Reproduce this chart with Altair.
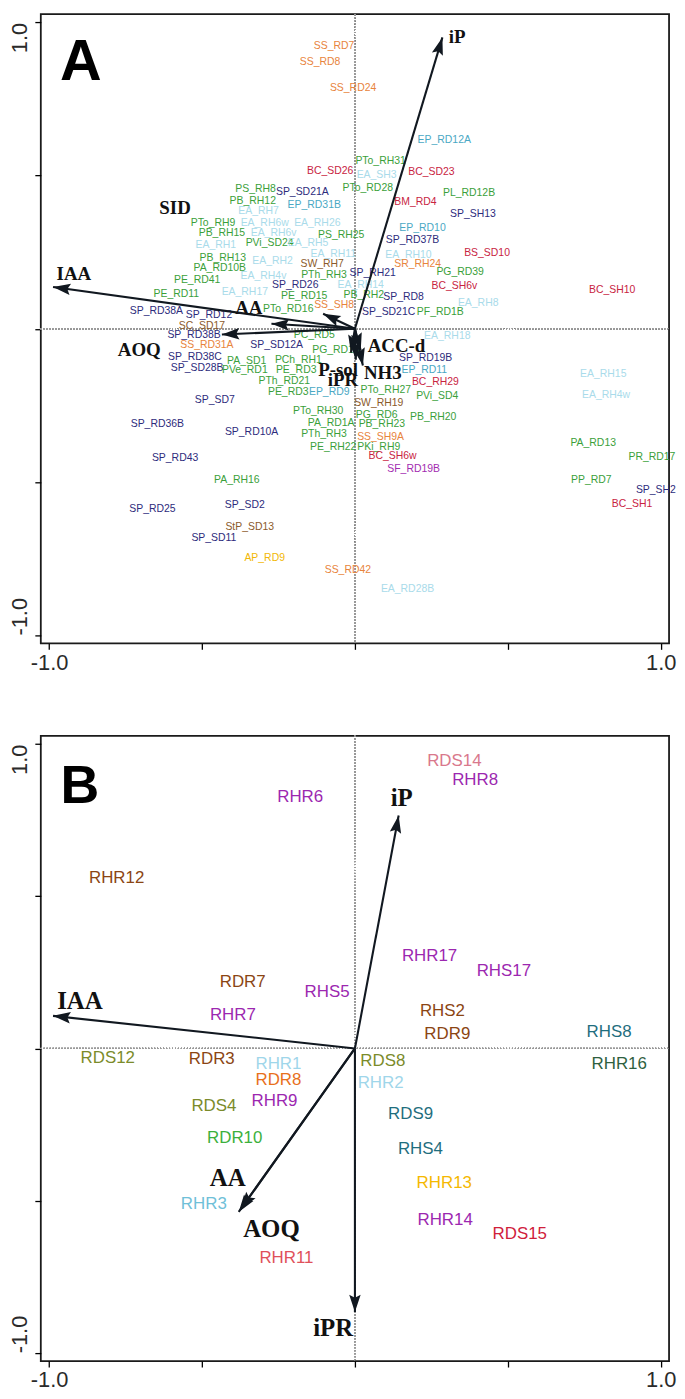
import math
import altair as alt
import pandas as pd

# ---------------- Panel A data ----------------
a_labels = ["SS_RD7", "SS_RD8", "SS_RD24", "EP_RD12A", "PTo_RH31", "BC_SD26", "EA_SH3", "BC_SD23",
            "PTo_RD28", "PL_RD12B", "PS_RH8", "SP_SD21A", "BM_RD4", "PB_RH12", "EP_RD31B", "EA_RH7",
            "SP_SH13", "PTo_RH9", "EA_RH6w", "EA_RH26", "EP_RD10", "PB_RH15", "EA_RH6v", "PS_RH25",
            "SP_RD37B", "EA_RH1", "PVi_SD24", "EA_RH5", "BS_SD10", "EA_RH10", "EA_RH11", "PB_RH13",
            "EA_RH2", "SW_RH7", "SR_RH24", "PA_RD10B", "PG_RD39", "SP_RH21", "PTh_RH3", "EA_RH4v",
            "PE_RD41", "SP_RD26", "EA_RH14", "BC_SH6v", "BC_SH10", "EA_RH17", "PE_RD11", "PE_RD15",
            "PB_RH2", "SP_RD8", "EA_RH8", "SS_SH8", "PTo_RD16", "SP_RD38A", "SP_SD21C", "PF_RD1B",
            "SP_RD12", "SC_SD17", "PC_RD5", "SP_RD38B", "EA_RH18", "SS_RD31A", "SP_SD12A", "PG_RD14",
            "SP_RD38C", "SP_RD19B", "PCh_RH1", "PA_SD1", "SP_SD28B", "PVe_RD1", "PE_RD3", "EP_RD11",
            "EA_RH15", "PTh_RD21", "BC_RH29", "PTo_RH27", "PE_RD3", "EP_RD9", "PVi_SD4", "EA_RH4w",
            "SP_SD7", "SW_RH19", "PTo_RH30", "PG_RD6", "PB_RH20", "PA_RD1A", "SP_RD36B", "PB_RH23",
            "SP_RD10A", "PTh_RH3", "SS_SH9A", "PA_RD13", "PE_RH22", "PKi_RH9", "BC_SH6w", "PR_RD17",
            "SP_RD43", "SF_RD19B", "PA_RH16", "PP_RD7", "SP_SH2", "BC_SH1", "SP_SD2", "SP_RD25",
            "StP_SD13", "SP_SD11", "AP_RD9", "SS_RD42", "EA_RD28B"]
a_x = [-0.068, -0.114, -0.006, 0.292, 0.084, -0.081, 0.071, 0.250,
       0.042, 0.373, -0.325, -0.172, 0.198, -0.334, -0.133, -0.315,
       0.386, -0.464, -0.295, -0.123, 0.221, -0.435, -0.266, -0.045,
       0.188, -0.455, -0.279, -0.153, 0.432, 0.175, -0.071, -0.432,
       -0.269, -0.107, 0.205, -0.442, 0.344, 0.058, -0.101, -0.299,
       -0.516, -0.195, 0.019, 0.325, 0.841, -0.360, -0.584, -0.166,
       0.029, 0.159, 0.403, -0.068, -0.218, -0.649, 0.110, 0.279,
       -0.477, -0.500, -0.133, -0.526, 0.302, -0.484, -0.256, -0.062,
       -0.523, 0.231, -0.185, -0.354, -0.516, -0.360, -0.192, 0.227,
       0.812, -0.231, 0.263, 0.101, -0.218, -0.084, 0.269, 0.821,
       -0.458, 0.078, -0.120, 0.071, 0.256, -0.078, -0.646, 0.088,
       -0.338, -0.101, 0.084, 0.779, -0.071, 0.078, 0.123, 0.971,
       -0.588, 0.192, -0.386, 0.773, 0.984, 0.906, -0.360, -0.662,
       -0.344, -0.461, -0.295, -0.023, 0.172]
a_y = [0.922, 0.870, 0.786, 0.617, 0.549, 0.516, 0.503, 0.510,
       0.458, 0.442, 0.455, 0.445, 0.412, 0.416, 0.403, 0.383,
       0.373, 0.344, 0.344, 0.344, 0.328, 0.312, 0.312, 0.305,
       0.289, 0.273, 0.279, 0.279, 0.247, 0.240, 0.244, 0.231,
       0.221, 0.211, 0.211, 0.198, 0.185, 0.182, 0.175, 0.172,
       0.159, 0.143, 0.143, 0.140, 0.127, 0.120, 0.114, 0.107,
       0.110, 0.104, 0.084, 0.078, 0.065, 0.058, 0.055, 0.055,
       0.045, 0.010, -0.019, -0.019, -0.023, -0.052, -0.052, -0.071,
       -0.091, -0.097, -0.101, -0.104, -0.127, -0.136, -0.136, -0.136,
       -0.149, -0.172, -0.175, -0.201, -0.208, -0.205, -0.221, -0.218,
       -0.234, -0.244, -0.269, -0.282, -0.289, -0.308, -0.312, -0.312,
       -0.338, -0.344, -0.354, -0.373, -0.386, -0.386, -0.416, -0.419,
       -0.422, -0.458, -0.494, -0.494, -0.526, -0.571, -0.575, -0.588,
       -0.646, -0.682, -0.750, -0.789, -0.851]

group_colors = {"SS": "#e8843c", "SR": "#e8843c", "SP": "#2d2b7c", "BC": "#c8233f", "BM": "#c8233f",
                "BS": "#c8233f", "EA": "#a9dbea", "EP": "#4aa8c4", "SW": "#8b5a2b", "SC": "#8b5a2b",
                "StP": "#8b5a2b", "SF": "#a22bb0", "AP": "#f2b705", "P": "#3aa03a"}

a_arrow_names = ["iP", "IAA", "SID", "AA", "AOQ", "ACC-d", "P-sol", "NH3", "iPR"]
a_arrow_x = [0.286, -0.987, -0.104, -0.273, -0.435, 0.019, -0.013, 0.026, 0.003]
a_arrow_y = [0.951, 0.136, 0.049, 0.016, -0.019, -0.071, -0.078, -0.120, -0.101]
a_lab_x = [0.334, -0.919, -0.588, -0.347, -0.705, 0.136, -0.055, 0.091, -0.039]
a_lab_y = [0.951, 0.179, 0.393, 0.068, -0.071, -0.055, -0.136, -0.143, -0.169]

# ---------------- Panel B data ----------------
b_labels = ["RDS14", "RHR8", "RHR6", "RHR12", "RHR17", "RHS17", "RDR7", "RHS5", "RHR7", "RHS2",
            "RDR9", "RHS8", "RDS12", "RDR3", "RHR1", "RDS8", "RHR16", "RDR8", "RHR2", "RHR9",
            "RDS4", "RDS9", "RDR10", "RHS4", "RHR13", "RHR3", "RHR14", "RDS15", "RHR11"]
b_x = [0.325, 0.393, -0.179, -0.779, 0.244, 0.487, -0.367, -0.091, -0.399, 0.286,
       0.302, 0.831, -0.808, -0.468, -0.250, 0.091, 0.864, -0.250, 0.084, -0.263,
       -0.461, 0.182, -0.393, 0.214, 0.292, -0.494, 0.295, 0.539, -0.224]
b_y = [0.945, 0.883, 0.827, 0.560, 0.303, 0.254, 0.218, 0.186, 0.111, 0.124,
       0.046, 0.055, -0.033, -0.036, -0.052, -0.042, -0.052, -0.104, -0.114, -0.173,
       -0.189, -0.215, -0.293, -0.332, -0.443, -0.511, -0.564, -0.609, -0.687]
b_colors = ["#d9788c", "#9c27b0", "#9c27b0", "#8b4513", "#9c27b0", "#9c27b0", "#8b4513", "#9c27b0",
            "#9c27b0", "#8b4513", "#8b4513", "#1f6e7e", "#7b8b2a", "#8b4513", "#9fd6ea", "#7b8b2a",
            "#2f5f40", "#e8701c", "#9fd6ea", "#9c27b0", "#7b8b2a", "#1f6e7e", "#3cb03c", "#1f6e7e",
            "#f5b800", "#6fc0d8", "#9c27b0", "#d0203a", "#e0505a"]

b_arrow_names = ["iP", "IAA", "AA", "AOQ", "iPR"]
b_arrow_x = [0.143, -0.987, -0.380, -0.373, 0.0]
b_arrow_y = [0.765, 0.107, -0.537, -0.528, -0.866]
b_lab_x = [0.153, -0.899, -0.416, -0.273, -0.071]
b_lab_y = [0.824, 0.156, -0.427, -0.593, -0.919]

ticks = [-1, -0.5, 0, 0.5, 1]
DOM = [-1.027, 1.027]


def color_for(name):
    p = name.split("_")[0]
    if p in group_colors:
        return group_colors[p]
    return group_colors["P"]


def panel(sdf, adf, letter, letter_xy, sfont, vfont, lfont, h):
    xs = alt.Scale(domain=DOM, nice=False, zero=False)
    ys = alt.Scale(domain=DOM, nice=False, zero=False)
    lab = "datum.value == 1 ? '1.0' : (datum.value == -1 ? '-1.0' : '')"
    xax = alt.Axis(values=ticks, labelExpr=lab, grid=False, domain=False, tickSize=6,
                   tickColor="black", tickWidth=1.3, labelFontSize=22, labelFont="Liberation Sans",
                   labelColor="#2a2a2a", labelPadding=3, labelFlush=True, labelFlushOffset=5,
                   labelOverlap=False, title=None)
    yax = alt.Axis(values=ticks, labelExpr=lab, grid=False, domain=False, tickSize=6,
                   tickColor="black", tickWidth=1.3, labelFontSize=22, labelFont="Liberation Sans",
                   labelColor="#2a2a2a", labelPadding=3, labelFlush=False, labelOverlap=False,
                   labelAngle=270,
                   labelAlign={"condition": {"test": "datum.value > 0", "value": "right"},
                               "value": "left"},
                   labelBaseline="bottom", title=None)

    base = alt.Chart(sdf)
    hline = alt.Chart(sdf).mark_rule(color="#9a9a9a", strokeDash=[1, 2], strokeWidth=0.9).encode(
        y=alt.datum(0, scale=ys, axis=yax), x=alt.value(0), x2=alt.value(632))
    vline = alt.Chart(sdf).mark_rule(color="#9a9a9a", strokeDash=[1, 2], strokeWidth=0.9).encode(
        x=alt.datum(0, scale=xs, axis=xax), y=alt.value(0), y2=alt.value(h))

    shafts = alt.Chart(adf).mark_rule(color="#111820", strokeWidth=2.1).encode(
        x=alt.X("x0:Q", scale=xs, axis=xax), y=alt.Y("y0:Q", scale=ys, axis=yax),
        x2="x:Q", y2="y:Q")
    heads = alt.Chart(adf).mark_point(
        shape="M0,0 L-1.15,3.5 L0,2.9 L1.15,3.5 Z", filled=True, color="#111820", opacity=1,
        size=100, strokeWidth=0).encode(
        x=alt.X("x:Q", scale=xs, axis=xax), y=alt.Y("y:Q", scale=ys, axis=yax),
        angle=alt.Angle("ang:Q", scale=None))
    vlabels = alt.Chart(adf).mark_text(font="Liberation Serif", fontWeight="bold", fontSize=vfont,
                                       color="#111111").encode(
        x=alt.X("lx:Q", scale=xs, axis=xax), y=alt.Y("ly:Q", scale=ys, axis=yax), text="name:N")
    slabels = base.mark_text(font="Liberation Sans", fontSize=sfont).encode(
        x=alt.X("x:Q", scale=xs, axis=xax), y=alt.Y("y:Q", scale=ys, axis=yax), text="label:N",
        color=alt.Color("col:N", scale=None))
    ldf = pd.DataFrame({"t": [letter], "x": [letter_xy[0]], "y": [letter_xy[1]]})
    letter_mark = alt.Chart(ldf).mark_text(font="Liberation Sans", fontWeight="bold",
                                           fontSize=lfont, color="black").encode(
        x=alt.X("x:Q", scale=xs, axis=xax), y=alt.Y("y:Q", scale=ys, axis=yax), text="t:N")
    return alt.layer(hline, vline, slabels, shafts, heads, vlabels, letter_mark).properties(
        width=632, height=h)


def arrows_df(names, xs_, ys_, lx, ly):
    angs = [(math.degrees(math.atan2(x, y)) + 360) % 360 for x, y in zip(xs_, ys_)]
    return pd.DataFrame({"name": names, "x": xs_, "y": ys_, "x0": [0.0] * len(names),
                         "y0": [0.0] * len(names), "lx": lx, "ly": ly, "ang": angs})


dfa = pd.DataFrame({"label": a_labels, "x": a_x, "y": a_y, "col": [color_for(n) for n in a_labels]})
dfb = pd.DataFrame({"label": b_labels, "x": b_x, "y": b_y, "col": b_colors})
arra = arrows_df(a_arrow_names, a_arrow_x, a_arrow_y, a_lab_x, a_lab_y)
arrb = arrows_df(b_arrow_names, b_arrow_x, b_arrow_y, b_lab_x, b_lab_y)

pa = panel(dfa, arra, "A", (-0.896, 0.867), 10.5, 19, 58, 633)
pb = panel(dfb, arrb, "B", (-0.899, 0.857), 17, 25, 54, 629)

chart = alt.vconcat(pa, pb, spacing=60).properties(padding=0).configure(
    background="white").configure_view(stroke="#1a1a1a", strokeWidth=1.8)

chart.save("out.html", embed_options={"renderer": "svg", "actions": False})
